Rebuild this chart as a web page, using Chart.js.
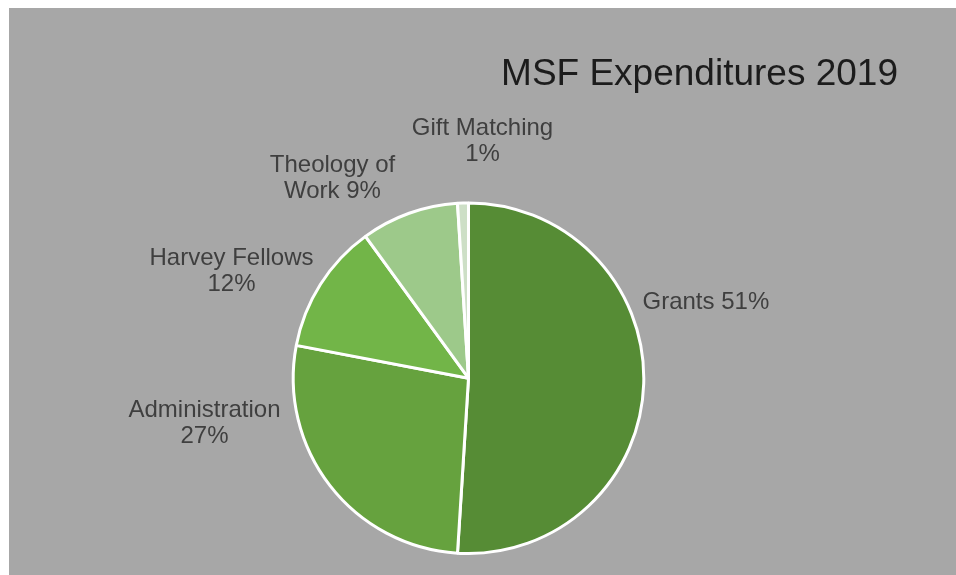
<!DOCTYPE html>
<html>
<head>
<meta charset="utf-8">
<title>MSF Expenditures 2019</title>
<script src="https://cdn.jsdelivr.net/npm/chart.js@4/dist/chart.umd.min.js"></script>
<style>
  html, body { margin: 0; padding: 0; background: #ffffff; overflow: hidden; }
  #panel { position: absolute; left: 9px; top: 8px; right: 0; bottom: 0; background: #a7a7a7; }
  #chart { position: absolute; left: 0; top: 0; }
</style>
</head>
<body>
<div id="panel"></div>
<canvas id="chart" width="956" height="575"></canvas>
<script>
// Chart data
const categories = ['Grants', 'Administration', 'Harvey Fellows', 'Theology of Work', 'Gift Matching'];
const shares = [51, 27, 12, 9, 1];
const sliceColors = ['#568c35', '#66a23e', '#72b548', '#9dc98a', '#cddfc6'];

// how many words go on the first line of each label (0 = single line)
const wrapAfterWords = [0, 1, 2, 2, 2];
// label anchor (centre x / first baseline) relative to the pie centre, in pixels
const labelOffsets = [
  { dx: 174, dy: -69, align: 'left' },
  { dx: -264, dy: 39, align: 'center' },
  { dx: -237, dy: -113, align: 'center' },
  { dx: -136, dy: -206, align: 'center' },
  { dx: 14, dy: -243, align: 'center' }
];

const FONT = "'Liberation Sans', Arial, Helvetica, sans-serif";

// Draws the outside labels ("Grants 51%") next to each slice
const sliceLabels = {
  id: 'sliceLabels',
  afterDatasetsDraw(chart) {
    const ctx = chart.ctx;
    const arcs = chart.getDatasetMeta(0).data;
    ctx.save();
    ctx.font = '24px ' + FONT;
    ctx.fillStyle = '#3f3f3f';
    ctx.textBaseline = 'alphabetic';
    arcs.forEach((arc, i) => {
      const words = (categories[i] + ' ' + shares[i] + '%').split(' ');
      const n = wrapAfterWords[i];
      const lines = n ? [words.slice(0, n).join(' '), words.slice(n).join(' ')] : [words.join(' ')];
      const pos = labelOffsets[i];
      ctx.textAlign = pos.align;
      lines.forEach((line, k) => {
        ctx.fillText(line, arc.x + pos.dx, arc.y + pos.dy + k * 26);
      });
    });
    ctx.restore();
  }
};

new Chart(document.getElementById('chart'), {
  type: 'pie',
  data: {
    labels: categories,
    datasets: [{
      data: shares,
      backgroundColor: sliceColors,
      borderColor: '#ffffff',
      borderWidth: 3,
      hoverOffset: 0
    }]
  },
  options: {
    responsive: false,
    animation: false,
    devicePixelRatio: 1,
    layout: {
      padding: { left: 39, right: 58, top: 8, bottom: 20 }
    },
    plugins: {
      legend: { display: false },
      tooltip: { enabled: false },
      title: {
        display: true,
        text: 'MSF Expenditures 2019',
        align: 'end',
        color: '#1c1c1c',
        font: { family: FONT, size: 37, weight: 'normal', lineHeight: 1.2 },
        padding: { top: 45, bottom: 104 }
      }
    }
  },
  plugins: [sliceLabels]
});
</script>
</body>
</html>
